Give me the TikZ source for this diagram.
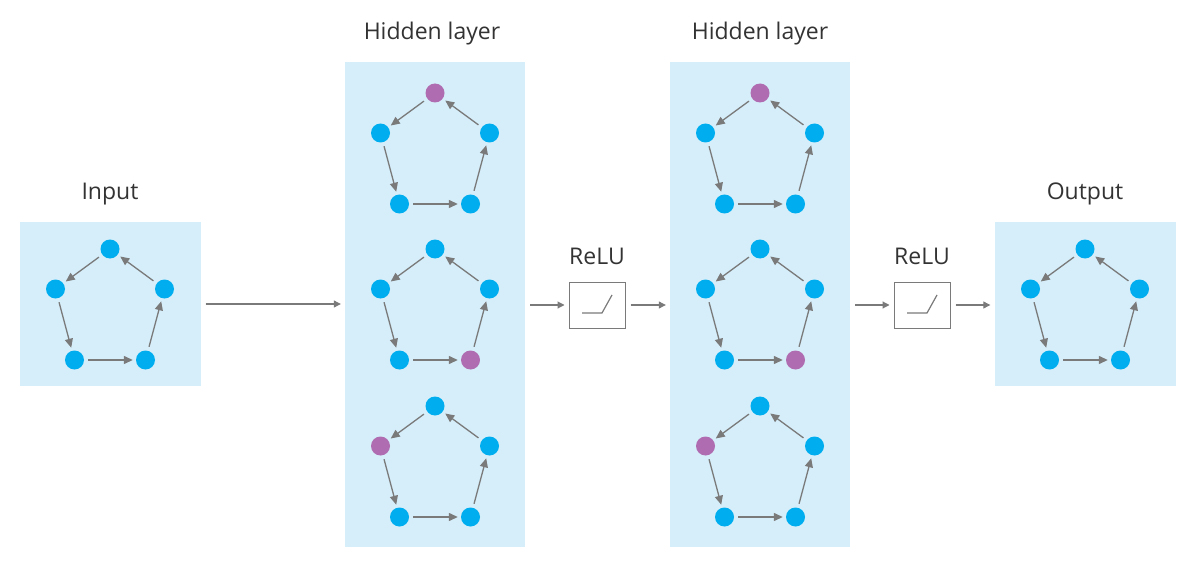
\documentclass[tikz,border=0pt]{standalone}
\usepackage{fontspec}
\setmainfont{Open Sans}
\usetikzlibrary{positioning, arrows.meta}
\definecolor{panelblue}{HTML}{D5EEFA}
\definecolor{nodeblue}{HTML}{00AEEF}
\definecolor{nodepurple}{HTML}{B06CB0}
\definecolor{edgegray}{HTML}{7A7A7A}
\definecolor{textgray}{HTML}{333333}
\tikzset{bullet/.style={circle,inner sep=0pt,minimum size=19pt},
  layer/.style={fill=panelblue,inner sep=0pt},
  edge/.style={-{Triangle[length=9pt,width=8pt]},draw=edgegray,fill=edgegray,line width=1.3pt,shorten <=4pt,shorten >=3pt},
  link/.style={-{Triangle[length=7pt,width=7pt]},draw=edgegray,fill=edgegray,line width=1.1pt,shorten <=5pt,shorten >=4pt},
  caption/.style={text=textgray,font=\fontsize{23}{27}\selectfont},
  relubox/.style={draw=edgegray,line width=1pt,fill=white,minimum width=56pt,minimum height=46pt}}

\begin{document}
\begin{tikzpicture}[x=1pt, y=-1pt]
    \useasboundingbox (0,0) rectangle (1200,575);

    % panels
    \node[layer, minimum width=181pt, minimum height=164pt] (in) at (110,304) {};
    \node[layer, minimum width=180pt, minimum height=485pt] (hid1) at (435,304.5) {};
    \node[layer, minimum width=180pt, minimum height=485pt] (hid2) at (760,304.5) {};
    \node[layer, minimum width=181pt, minimum height=164pt] (out) at (1085,304) {};

    \node[caption] (in-label) at (110,194) {Input};
    \node[caption] (hid1-label) at (432,34) {Hidden layer};
    \node[caption] (hid2-label) at (760,34) {Hidden layer};
    \node[caption] (out-label) at (1085,194) {Output};

    % graphs: name/centre/purple vertex
    \foreach \g/\cx/\cy/\hot in {a/110/304/0, b/435/148/1, c/435/304/4,
        d/435/461/2, e/760/148/1, f/760/304/4, g/760/461/2, h/1085/304/0}
    {
      \foreach \k/\dx/\dy in {1/0/-55, 2/-54.5/-15, 3/-35.5/56, 4/35.5/56, 5/54.5/-15}
      {
        \ifnum\k=\hot \def\col{nodepurple}\else \def\col{nodeblue}\fi
        \node[bullet, fill=\col] (\g-\k) at (\cx+\dx,\cy+\dy) {};
      }
      \foreach \a/\b in {1/2, 2/3, 3/4, 4/5, 5/1}
        \draw[edge] (\g-\a) -- (\g-\b);
    }

    % activation
    \node[relubox] (relu1) at (597,305) {};
    \node[relubox] (relu2) at (922,305) {};
    \node[caption] (relu1-label) at (597,256) {ReLU};
    \node[caption] (relu2-label) at (922,256) {ReLU};
    \draw[edgegray, line width=1.2pt, shift={(relu1.center)}] (-15,8) -- (5,8) -- (15,-10);
    \draw[edgegray, line width=1.2pt, shift={(relu2.center)}] (-15,8) -- (5,8) -- (15,-10);

    \draw[link] (in.east) -- (in.east -| hid1.west);
    \draw[link] (relu1.west -| hid1.east) -- (relu1.west);
    \draw[link] (relu1.east) -- (relu1.east -| hid2.west);
    \draw[link] (relu2.west -| hid2.east) -- (relu2.west);
    \draw[link] (relu2.east) -- (relu2.east -| out.west);
\end{tikzpicture}
\end{document}
